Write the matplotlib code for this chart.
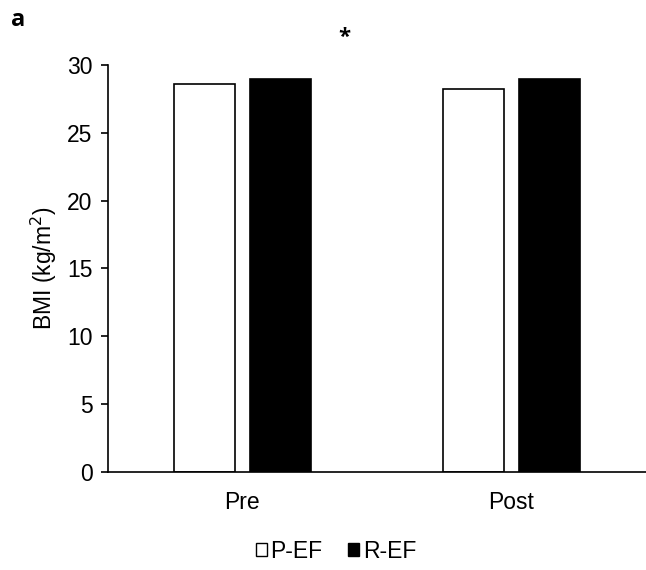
import numpy as np
import matplotlib.pyplot as plt
from matplotlib.patches import Patch

plt.rcParams['font.family'] = ['Liberation Sans', 'DejaVu Sans']

groups = ['Pre', 'Post']
p_ef = [28.57, 28.25]
r_ef = [28.98, 28.94]
yticks = [0, 5, 10, 15, 20, 25, 30]

fig = plt.figure(figsize=(6.46, 5.70), dpi=100)
ax = fig.add_axes([0.167, 0.172, 0.833, 0.714])

x = np.arange(len(groups))
w = 0.227
ax.bar(x - 0.142, p_ef, w, color='white', edgecolor='black', linewidth=1.2, label='P-EF')
ax.bar(x + 0.142, r_ef, w, color='black', edgecolor='black', linewidth=1.2, label='R-EF')

ax.set_xlim(-0.5, 1.5)
ax.set_ylim(0, 30)
ax.set_yticks(yticks)
ax.set_xticks(x)
ax.set_xticklabels(groups)
ax.tick_params(axis='x', length=0, pad=14, labelsize=16.5)
ax.tick_params(axis='y', length=5, width=1.2, pad=6, labelsize=16.5)
for s in ['top', 'right']:
    ax.spines[s].set_visible(False)
ax.spines['left'].set_linewidth(1.2)
ax.spines['bottom'].set_linewidth(1.2)

ax.set_ylabel('BMI (kg/m$^2$)', fontsize=16.5, labelpad=6)

# significance mark and panel letter
ax.text(0.38, 32.0, '*', fontsize=16, fontweight='bold', family='Open Sans',
        ha='center', va='center', clip_on=False)
fig.text(0.017, 0.965, 'a', fontsize=17, fontweight='bold', family='Open Sans', ha='left', va='center')

handles = [Patch(facecolor='white', edgecolor='black', linewidth=1.0),
           Patch(facecolor='black', edgecolor='black', linewidth=1.0)]
fig.legend(handles, ['P-EF', 'R-EF'], loc='center', bbox_to_anchor=(0.52, 0.033),
           ncol=2, frameon=False, fontsize=16.5, handlelength=0.5, handleheight=0.5,
           handletextpad=0.15, columnspacing=1.1)

fig.savefig('out.png', dpi=100)
